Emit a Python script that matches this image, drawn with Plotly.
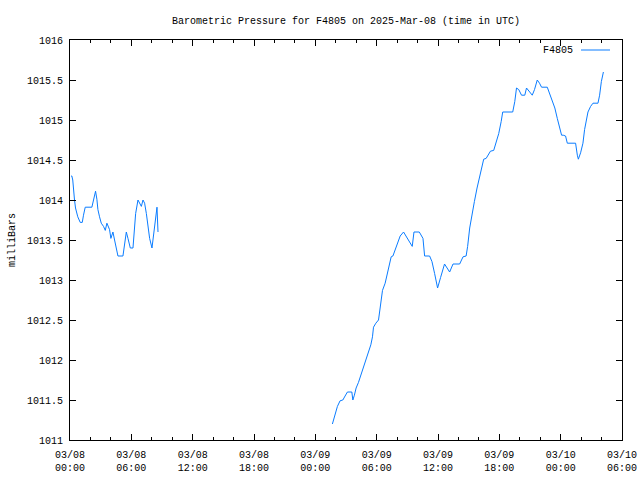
import pandas as pd
import plotly.graph_objects as go

# hours since 2025-03-08 00:00 UTC, segment 1
hours_a = [0.10, 0.18, 0.27, 0.34, 0.44, 0.54, 0.76, 1.00, 1.20, 1.32, 1.49, 2.14, 2.37, 2.50,
           2.63, 2.73, 2.89, 3.06, 3.28, 3.45, 3.61, 3.87, 4.00, 4.20, 4.36, 4.53, 4.69, 5.18,
           5.34, 5.51, 5.67, 5.90, 6.16, 6.32, 6.42, 6.65, 6.81, 6.98, 7.14, 7.30, 7.47, 7.63,
           7.79, 8.02, 8.19, 8.35, 8.51, 8.61]
press_a = [1014.30, 1014.30, 1014.25, 1014.12, 1014.00, 1013.90, 1013.79, 1013.72, 1013.72,
           1013.81, 1013.91, 1013.91, 1014.05, 1014.11, 1014.01, 1013.88, 1013.79, 1013.71,
           1013.67, 1013.62, 1013.71, 1013.63, 1013.52, 1013.60, 1013.50, 1013.40, 1013.30,
           1013.30, 1013.44, 1013.60, 1013.52, 1013.40, 1013.40, 1013.65, 1013.83, 1014.00,
           1013.96, 1013.92, 1014.00, 1013.96, 1013.83, 1013.65, 1013.52, 1013.40, 1013.56,
           1013.75, 1013.91, 1013.60]

# segment 2
hours_b = [25.67, 25.93, 26.16, 26.42, 26.69, 26.91, 27.14, 27.57, 27.67, 27.82, 27.99, 28.22,
           28.45, 28.71, 28.94, 29.20, 29.43, 29.59, 29.69, 29.92, 30.18, 30.34, 30.44, 30.57,
           30.83, 31.06, 31.25, 31.42, 31.59, 31.81, 32.04, 32.30, 32.63, 33.02, 33.48, 33.65,
           34.17, 34.53, 34.69, 35.18, 35.41, 35.67, 35.96, 36.25, 36.64, 37.14, 37.47, 38.12,
           38.45, 38.75, 38.90, 39.10, 39.33, 39.56, 39.82, 40.08, 40.31, 40.47, 40.71, 40.96,
           41.13, 41.45, 41.72, 41.94, 42.18, 42.33, 43.31, 43.51, 43.68, 43.90, 44.17, 44.49,
           44.66, 44.88, 45.22, 45.44, 45.71, 45.93, 46.13, 46.69, 46.94, 47.18, 47.43, 47.67,
           47.89, 48.09, 48.25, 48.48, 48.65, 49.46, 49.63, 49.73, 49.95, 50.18, 50.34, 50.51,
           50.67, 50.93, 51.16, 51.65, 51.81, 51.98, 52.18]
press_b = [1011.20, 1011.33, 1011.42, 1011.49, 1011.50, 1011.55, 1011.60, 1011.60, 1011.50,
           1011.56, 1011.65, 1011.72, 1011.81, 1011.92, 1012.02, 1012.13, 1012.19, 1012.29,
           1012.41, 1012.46, 1012.50, 1012.65, 1012.75, 1012.87, 1012.96, 1013.08, 1013.17,
           1013.29, 1013.30, 1013.38, 1013.48, 1013.55, 1013.60, 1013.52, 1013.42, 1013.60,
           1013.60, 1013.52, 1013.30, 1013.30, 1013.23, 1013.08, 1012.90, 1013.03, 1013.20,
           1013.10, 1013.20, 1013.20, 1013.29, 1013.30, 1013.42, 1013.65, 1013.83, 1013.98,
           1014.15, 1014.31, 1014.42, 1014.51, 1014.52, 1014.58, 1014.61, 1014.62, 1014.73,
           1014.83, 1014.98, 1015.10, 1015.10, 1015.23, 1015.40, 1015.38, 1015.31, 1015.31,
           1015.40, 1015.37, 1015.31, 1015.38, 1015.50, 1015.46, 1015.41, 1015.41, 1015.33,
           1015.25, 1015.15, 1015.02, 1014.92, 1014.81, 1014.81, 1014.80, 1014.71, 1014.71,
           1014.56, 1014.51, 1014.59, 1014.71, 1014.88, 1015.02, 1015.10, 1015.17, 1015.21,
           1015.21, 1015.31, 1015.48, 1015.60]

x_tick_vals = ["2025-03-08 00:00", "2025-03-08 06:00", "2025-03-08 12:00", "2025-03-08 18:00",
               "2025-03-09 00:00", "2025-03-09 06:00", "2025-03-09 12:00", "2025-03-09 18:00",
               "2025-03-10 00:00", "2025-03-10 06:00"]
x_tick_text = ["03/08<br>00:00", "03/08<br>06:00", "03/08<br>12:00", "03/08<br>18:00",
               "03/09<br>00:00", "03/09<br>06:00", "03/09<br>12:00", "03/09<br>18:00",
               "03/10<br>00:00", "03/10<br>06:00"]
y_tick_vals = [1011, 1011.5, 1012, 1012.5, 1013, 1013.5, 1014, 1014.5, 1015, 1015.5, 1016]
y_tick_text = ["1011", "1011.5", "1012", "1012.5", "1013", "1013.5", "1014", "1014.5",
               "1015", "1015.5", "1016"]

base = pd.Timestamp("2025-03-08 00:00")
xa = list(base + pd.to_timedelta(hours_a, unit="h"))
xb = list(base + pd.to_timedelta(hours_b, unit="h"))
xs = xa + [None] + xb
ys = press_a + [None] + press_b

FONT = "Liberation Mono"
COLOR = "#0a7cff"

fig = go.Figure()
fig.add_trace(go.Scatter(x=xs, y=ys, mode="lines", name="F4805",
                         line=dict(color=COLOR, width=1), connectgaps=False,
                         showlegend=False))

axis_common = dict(showline=True, linecolor="black", linewidth=1, mirror="allticks",
                   ticks="inside", ticklen=6, tickcolor="black", tickwidth=1,
                   showgrid=False, zeroline=False, automargin=False,
                   tickfont=dict(family=FONT, size=10, color="black"))

fig.update_xaxes(range=[x_tick_vals[0], x_tick_vals[-1]], tickmode="array",
                 tickvals=x_tick_vals, ticktext=x_tick_text, ticklabelstandoff=5,
                 minor=dict(ticks="inside", ticklen=3, tickcolor="black",
                            dtick=2 * 3600 * 1000, tick0="2025-03-08 00:00",
                            showgrid=False),
                 **axis_common)
fig.update_yaxes(range=[1011, 1016], tickmode="array", tickvals=y_tick_vals,
                 ticktext=y_tick_text, ticklabelstandoff=4, **axis_common)

fig.update_layout(
    width=640, height=480,
    margin=dict(l=70, r=18, t=40, b=40),
    paper_bgcolor="white", plot_bgcolor="white",
    font=dict(family=FONT, size=10, color="black"),
    title=dict(text="Barometric Pressure for F4805 on 2025-Mar-08 (time in UTC)",
               x=0.5, xref="paper", xanchor="center",
               y=1 - 20 / 480, yanchor="middle",
               font=dict(family=FONT, size=10, color="black")),
    annotations=[
        dict(text="milliBars", xref="paper", yref="paper", x=-58 / 552, y=0.5,
             xanchor="center", yanchor="middle", textangle=-90, showarrow=False,
             font=dict(family=FONT, size=10, color="black")),
        dict(text="F4805", xref="paper", yref="paper", x=(575 - 70) / 552,
             y=(440 - 50) / 400, xanchor="right", yanchor="middle", showarrow=False,
             font=dict(family=FONT, size=10, color="black")),
    ],
    shapes=[
        dict(type="line", xref="paper", yref="paper", x0=(581 - 70) / 552,
             x1=(610 - 70) / 552, y0=(440 - 50) / 400, y1=(440 - 50) / 400,
             line=dict(color=COLOR, width=1)),
    ],
)

fig.write_html("out.html")
